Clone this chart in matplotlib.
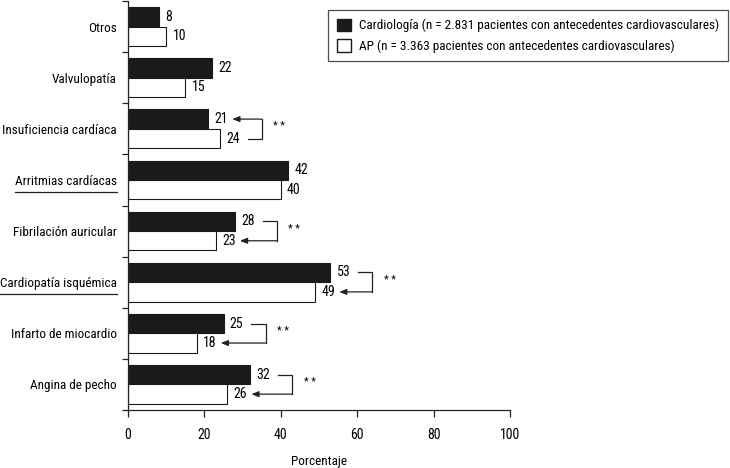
import matplotlib
matplotlib.use("Agg")
import matplotlib.pyplot as plt
from matplotlib.patches import Patch
from matplotlib.lines import Line2D
import numpy as np

plt.rcParams['font.family'] = ['Roboto Condensed', 'DejaVu Sans']
plt.rcParams['font.size'] = 9.5

categories = ["Otros", "Valvulopatía", "Insuficiencia cardíaca", "Arritmias cardíacas",
              "Fibrilación auricular", "Cardiopatía isquémica", "Infarto de miocardio",
              "Angina de pecho"]
cardiologia = [8, 22, 21, 42, 28, 53, 25, 32]
ap = [10, 15, 24, 40, 23, 49, 18, 26]
underlined = ["Arritmias cardíacas", "Cardiopatía isquémica"]
# significance: +1 arrow from Cardiología to AP, -1 arrow from AP to Cardiología, 0 none
significance = [0, 0, -1, 0, 1, 1, 1, 1]
sig_text = "* *"
label_card = "Cardiología (n = 2.831 pacientes con antecedentes cardiovasculares)"
label_ap = "AP (n = 3.363 pacientes con antecedentes cardiovasculares)"
xticks = [0, 20, 40, 60, 80, 100]
xlabel = "Porcentaje"

FS = 9.5
fig = plt.figure(figsize=(7.30, 4.68), dpi=100)
ax = fig.add_axes([128/730, 1 - 410/468, (510-128)/730, (410-1)/468])

y = np.arange(len(categories))
h = 0.38
ax.barh(y - h/2, cardiologia, height=h, color='#1a1a1a', edgecolor='#1a1a1a', linewidth=0.8)
ax.barh(y + h/2, ap, height=h, color='white', edgecolor='#1a1a1a', linewidth=0.8)

for i in range(len(categories)):
    ax.annotate(str(cardiologia[i]), (cardiologia[i], y[i] - h/2), xytext=(4.5, 0),
                textcoords='offset points', va='center', ha='left', fontsize=FS + 0.5)
    ax.annotate(str(ap[i]), (ap[i], y[i] + h/2), xytext=(4.5, 0),
                textcoords='offset points', va='center', ha='left', fontsize=FS + 0.5)

lc = '#222222'
for i, s in enumerate(significance):
    if s == 0:
        continue
    c, a = cardiologia[i], ap[i]
    bx = max(c, a) + 11
    if s > 0:
        src_v, src_y, dst_v, dst_y = c, y[i] - h/2, a, y[i] + h/2
    else:
        src_v, src_y, dst_v, dst_y = a, y[i] + h/2, c, y[i] - h/2
    ax.plot([src_v + 7.3, bx, bx], [src_y, src_y, dst_y], color=lc, lw=0.9,
            solid_joinstyle='miter')
    ax.annotate('', xy=(dst_v + 6.3, dst_y), xytext=(bx, dst_y),
                arrowprops=dict(arrowstyle='-|>,head_length=0.45,head_width=0.18',
                                color=lc, lw=0.9, shrinkA=0, shrinkB=0))
    ax.text(bx + 3, y[i] - 0.05, sig_text, va='center', ha='left', fontsize=8)

ax.set_xlim(0, 100)
ax.set_ylim(len(categories) - 0.5, -0.5)
ax.set_xticks(xticks)
ax.set_xticklabels([str(t) for t in xticks], fontsize=FS + 0.5)
ax.set_yticks(y)
ax.set_yticklabels(categories, fontsize=FS)
ax.set_yticks(np.arange(-0.5, len(categories) + 0.5, 1), minor=True)
ax.tick_params(axis='y', which='major', length=0, pad=8)
ax.tick_params(axis='y', which='minor', length=4, width=0.9, color=lc)
ax.tick_params(axis='x', which='major', length=5, width=0.9, color=lc, pad=8)
for sp in ['top', 'right']:
    ax.spines[sp].set_visible(False)
for sp in ['left', 'bottom']:
    ax.spines[sp].set_linewidth(0.9)
    ax.spines[sp].set_color(lc)
ax.set_xlabel(xlabel, fontsize=FS)
ax.xaxis.set_label_coords(0.5, (410 - 461) / 409)
ax.xaxis.label.set_va('center')

handles = [Patch(facecolor='#1a1a1a', edgecolor='#1a1a1a', label=label_card),
           Patch(facecolor='white', edgecolor='#1a1a1a', label=label_ap)]
leg = fig.legend(handles=handles, loc='upper right', bbox_to_anchor=(728/730, 1 - 10/468),
                 frameon=True, fancybox=False, edgecolor='#222222', fontsize=FS,
                 handlelength=1.1, handleheight=1.1, handletextpad=0.6,
                 borderpad=0.65, labelspacing=0.5, borderaxespad=0)
leg.get_frame().set_linewidth(0.9)

fig.canvas.draw()
renderer = fig.canvas.get_renderer()
for lab in ax.get_yticklabels():
    if lab.get_text() in underlined:
        bb = lab.get_window_extent(renderer)
        yy = bb.y0 - 4
        fig.add_artist(Line2D([bb.x0 / fig.bbox.width, bb.x1 / fig.bbox.width],
                              [yy / fig.bbox.height, yy / fig.bbox.height],
                              transform=fig.transFigure, color=lc, lw=0.9))

fig.savefig("out.png", dpi=100)
